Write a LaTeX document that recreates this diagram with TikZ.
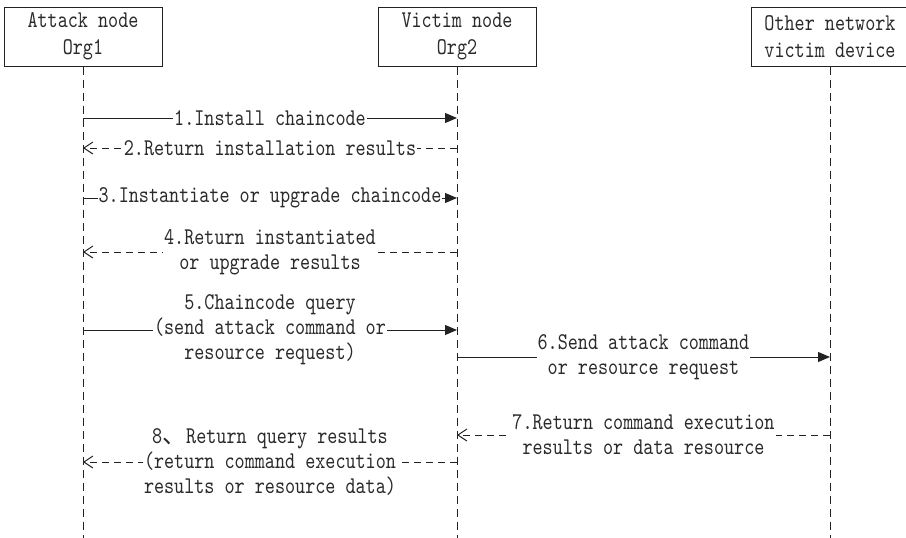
\documentclass[tikz,border=0pt]{standalone}
\usepackage{fontspec}
\setmainfont{lmmono10-regular}[Extension=.otf, FakeStretch=0.8]
\newfontfamily\cjk{Noto Sans CJK SC}
\usetikzlibrary{arrows.meta}
\definecolor{ink}{HTML}{222222}
\definecolor{txt}{HTML}{2a2a2a}
\begin{document}
\begin{tikzpicture}[x=1pt,y=-1pt,
  actor/.style={draw=ink, line width=1pt, minimum width=158pt, minimum height=59pt,
    inner sep=0pt, align=center, font=\fontsize{24}{27}\selectfont, text=txt},
  lifeline/.style={draw=ink, line width=0.9pt, dash pattern=on 8pt off 5pt},
  call/.style={draw=ink, line width=1pt, -{Triangle[length=12pt,width=10pt]}},
  reply/.style={draw=ink, line width=1pt, dash pattern=on 7pt off 5pt,
    -{Straight Barb[length=9pt,width=12pt]}},
  msg/.style={fill=white, inner xsep=1pt, inner ysep=1pt, align=center,
    font=\fontsize{24}{25}\selectfont, text=txt}]

\useasboundingbox (0,0) rectangle (906,538);

% participants
\node[actor] (a) at (83,36.5) {Attack node\\Org1};
\node[actor] (v) at (457,36.5) {Victim node\\Org2};
\node[actor] (o) at (830,36.5) {Other network\\victim device};

% lifelines
\coordinate (aend) at (83,538);
\coordinate (vend) at (457,538);
\coordinate (oend) at (830,538);
\draw[lifeline] (a.south) -- (aend);
\draw[lifeline] (v.south) -- (vend);
\draw[lifeline] (o.south) -- (oend);

% message anchors on the lifelines
\foreach \n/\y in {1/118,2/148,3/198,4/252,5/330,6/357,7/435,8/462}{
  \coordinate (a\n) at (83,\y);
  \coordinate (v\n) at (457,\y);
  \coordinate (o\n) at (830,\y);
}

% messages
\draw[call]  (a1) -- node[msg]{1.Install chaincode} (v1);
\draw[reply] (v2) -- node[msg]{2.Return installation results} (a2);
\draw[call]  (a3) -- node[msg]{3.Instantiate or upgrade chaincode} (v3);
\draw[reply] (v4) -- node[msg]{4.Return instantiated\\or upgrade results} (a4);
\draw[call]  (a5) -- node[msg]{5.Chaincode query\\(send attack command or\\resource request)} (v5);
\draw[call]  (v6) -- node[msg]{6.Send attack command\\or resource request} (o6);
\draw[reply] (o7) -- node[msg]{7.Return command execution\\results or data resource} (v7);
\draw[reply] (v8) -- node[msg]{8{\cjk 、}Return query results\\(return command execution\\results or resource data)} (a8);
\end{tikzpicture}
\end{document}
